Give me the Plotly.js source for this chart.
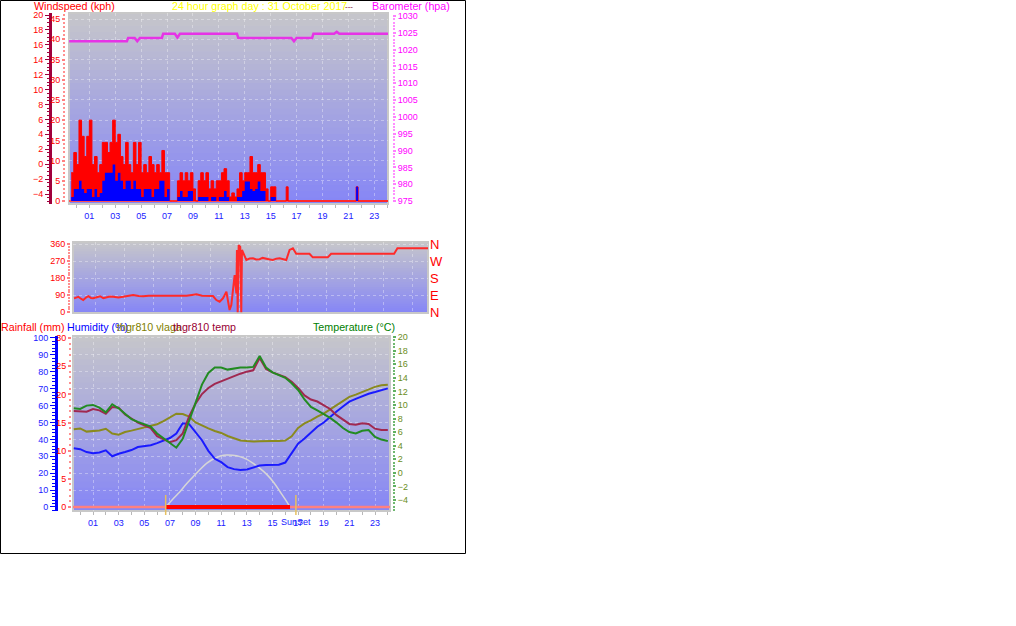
<!DOCTYPE html>
<html>
<head>
<meta charset="utf-8">
<script src="https://cdn.plot.ly/plotly-3.0.1.min.js"></script>
<style>html,body{margin:0;padding:0;background:#fff;}#chart{width:1016px;height:626px;}</style>
</head>
<body>
<div id="chart"></div>
<script>
// ---------- DATA ----------
const tickHours = [1,3,5,7,9,11,13,15,17,19,21,23];
const tickLabels = ['01','03','05','07','09','11','13','15','17','19','21','23'];

// Wind (kph)
const windHours = [-0.4,-0.2,0,0.2,0.4,0.6,0.8,1,1.2,1.4,1.6,1.8,2,2.2,2.4,2.6,2.8,3,3.2,3.4,3.6,3.8,4,4.2,4.4,4.6,4.8,5,5.2,5.4,5.6,5.8,6,6.2,6.4,6.6,6.8,7,7.2,7.4,7.6,7.8,8,8.2,8.4,8.6,8.8,9,9.2,9.4,9.6,9.8,10,10.2,10.4,10.6,10.8,11,11.2,11.4,11.6,11.8,12,12.2,12.4,12.6,12.8,13,13.2,13.4,13.6,13.8,14,14.2,14.4,14.6,14.8,15,15.2,15.4,16.2,16.35,21.6,21.75,24.07];
const windGust = [7,12,9,20,16,11,16,20,9,11,7,9,14.5,14.5,12,14.5,20,14.5,16.5,11,9,14.5,9,7,14.5,9,14.5,7,9,7,11,9,7,9,7,12.5,7,7,0,0,0,5,7,5,7,5,7,3,0,5,7,5,7,3,5,3,5,5,7,8,5,1,2,1,3,7,5,7,7,11,7,7,9,7,7,3,0,3.5,3.5,0,3.5,0,3.5,0,0];
const windAvg  = [1,3,3,5,3,2,3,3,1,3,1,2,5,7,7,7,9,5,7,5,3,5,5,3,5,3,3,1,3,3,3,1,3,3,5,5,1,3,0,0,0,1,2.5,1,1,2.5,2.5,0,0,1,1,1,1,0,1,1,0,1,1,2.5,1,0,0,0,1,1,2.5,4.8,4.8,3,2.5,3,4.8,2.5,2.5,0,0,1,1,0,0,0,3.5,0,0];

// Barometer (hpa)
const baroHours = [-0.56,3.9,4.0,4.5,4.7,4.9,6.6,6.7,7.6,7.8,8.0,12.4,12.5,16.6,16.8,17.0,18.2,18.3,19.9,20.1,20.3,24.07];
const baroHpa   = [1022.5,1022.5,1023.5,1023.5,1022.5,1023.5,1023.5,1024.7,1024.7,1023.6,1024.7,1024.7,1023.5,1023.5,1022.5,1023.5,1023.5,1024.7,1024.7,1025.3,1024.7,1024.7];

// Wind direction (degrees)
const dirHours = [-0.48,-0.3,-0.18,0,0.16,0.35,0.51,0.7,0.85,1.1,1.32,1.55,1.78,2.0,2.24,2.6,2.93,3.3,3.62,4.0,4.32,4.7,5.01,5.5,5.93,6.3,6.63,7.0,7.32,7.7,8.01,8.4,8.7,9.16,9.39,9.62,9.85,10.09,10.2,10.31,10.43,10.55,10.66,10.78,10.82,10.87,10.94,11.05,11.12,11.17,11.28,11.47,11.7,11.93,12.15,12.39,12.6,12.85,13.1,13.31,13.55,13.78,14.0,14.24,14.47,14.7,14.93,15.85,16.08,17.12,17.35,21.72,21.95,24.1];
const dirDeg   = [74,80,82,72,65,78,85,76,74,80,85,75,78,84,82,78,82,88,92,86,85,88,88,90,88,88,88,88,88,92,95,88,88,86,65,56,74,109,60,12,39,120,197,100,330,0,356,346,0,330,312,277,285,286,280,281,288,286,280,277,284,286,280,277,330,339,310,310,291,291,310,310,339,339];
const compassTicks = [0,90,180,270,360];
const compassLabels = ['N','E','S','W','N'];

// Lower panel
const hours = [-0.5,0,0.5,1,1.5,2,2.5,3,3.5,4,4.5,5,5.5,6,6.5,7,7.5,8,8.5,9,9.5,10,10.5,11,11.5,12,12.5,13,13.5,14,14.5,15,15.5,16,16.5,17,17.5,18,18.5,19,19.5,20,20.5,21,21.5,22,22.5,23,23.5,24];
const humidity    = [34.7,34.2,32.5,31.8,32.3,33.5,30,31.5,32.5,33.7,35.5,36,36.5,37.8,39.2,40.8,43.5,49.5,49,44,39.5,33.2,28.5,26.5,23.6,22.4,21.9,22.2,23.5,24.5,24.8,24.8,25,26.3,32,37.5,40.5,44,47.5,50,53.5,56.5,59.5,62.3,64,65.5,67,68,69.2,70.2];
const vlaga       = [46,46.5,44.6,45,45.3,46.3,43.5,42.8,44.4,45.2,46.2,47,48,49,50.8,52.9,55.2,55,53.5,50,48,46.5,45,43.8,42,40.5,39.4,39,38.7,38.9,39.2,39.1,39,39.3,41.8,46.8,49.5,51.2,53.5,55.3,57.8,60.2,63,65.2,66.5,68,69.5,71.1,72,72.3];
const thgrTemp    = [9.1,9.0,9.0,9.4,9.2,8.7,9.7,9.6,8.6,8.0,7.4,7.0,6.6,5.4,4.9,4.5,4.8,5.8,8.3,10.2,11.6,12.5,13.1,13.5,13.9,14.3,14.6,14.9,15.1,16.9,15.3,14.8,14.5,14.1,13.4,12.5,11.4,10.8,10.5,10.0,9.4,8.5,7.8,7.2,7.1,7.3,7.2,6.5,6.3,6.3];
const temperature = [9.5,9.4,9.9,10.0,9.6,8.9,10.1,9.5,8.7,7.9,7.5,7.2,6.8,5.8,5.1,4.5,3.7,5.0,7.5,10.3,13.0,14.7,15.5,15.5,15.2,15.4,15.5,15.5,15.6,17.2,15.5,14.8,14.4,14.0,13.2,12.2,10.8,9.7,9.2,8.7,8.1,7.4,6.6,6.0,5.8,6.2,6.3,5.3,4.9,4.7];
const sunHours = [6.67,7.2,7.78,8.3,8.83,9.35,9.86,10.25,10.64,11.0,11.43,11.9,12.46,13.0,13.5,14.0,14.55,15.1,15.6,16.0,16.37];
const sunElev  = [0,4.5,9,13.7,18,22.2,25.8,27.8,29.3,30.3,30.8,30.6,29.8,28.2,25.8,23,19.3,14.5,9,4.5,0];
const rainHours = [-0.56,24.17];
const rainMm = [0,0];
const daylightHours = [6.67,16.37];
const daylightMm = [0,0];
const sunEvents = [6.67,16.83];

// ---------- LAYOUT HELPERS ----------
const W = 1016, H = 626;
const fx = p => p / W;
const fy = p => 1 - p / H;
const FONT = 'Liberation Sans, Arial, sans-serif';
const GRID = 'rgba(255,255,255,0.35)';

function bands(xr, yr) {
  const out = [];
  const n = 30;
  const top = [198,198,202], bot = [134,134,246];
  for (let i = 0; i < n; i++) {
    const t = (i + 0.5) / n;
    const c = top.map((v, k) => Math.round(v + (bot[k] - v) * t));
    out.push({type:'rect', xref:xr + ' domain', yref:yr + ' domain', x0:0, x1:1,
      y0:Math.max(0, 1 - (i + 1.6) / n), y1:1 - i / n, layer:'below', line:{width:0},
      fillcolor:'rgb(' + c.join(',') + ')'});
  }
  out.push({type:'rect', xref:xr + ' domain', yref:yr + ' domain', x0:0, x1:1, y0:0, y1:1,
    layer:'below', line:{color:'#c8c8c8', width:2}, fillcolor:'rgba(0,0,0,0)'});
  return out;
}

const shapes = [].concat(
  bands('x','y'), bands('x2','y4'), bands('x3','y6'),
  sunEvents.map(h => ({type:'line', xref:'x3', yref:'paper', x0:h, x1:h, y0:fy(515), y1:fy(495),
    line:{color:'#e6c060', width:1.5}})),
  [{type:'rect', xref:'paper', yref:'paper', x0:fx(0.5), x1:fx(465.5), y0:fy(553.5), y1:fy(0.5),
    line:{color:'#000', width:1}, fillcolor:'rgba(0,0,0,0)'}]
);

function ann(text, x, y, color, size) {
  return {text:text, xref:'paper', yref:'paper', x:fx(x), y:fy(y), xanchor:'left', yanchor:'middle',
    showarrow:false, font:{family:FONT, size:size || 10.7, color:color}, borderpad:0};
}
const annotations = [
  ann('Windspeed (kph)', 33, 6, '#ff0000'),
  ann('24 hour graph day : 31 October 2017', 171, 6, '#ffff00'),
  ann('---', 344, 6, '#800020', 8),
  ann('Barometer (hpa)', 371, 6, '#ff00ff'),
  ann('Rainfall (mm)', 0, 327, '#ff0000'),
  ann('Humidity (%)', 66, 327, '#0000ff'),
  ann('thgr810 vlaga', 116, 327, '#808000'),
  ann('thgr810 temp', 172, 327, '#990033'),
  ann('Temperature (°C)', 312, 327, '#008000'),
  {text:'SunSet', xref:'x3', yref:'paper', x:sunEvents[1], y:fy(522), xanchor:'center', yanchor:'middle',
   showarrow:false, font:{family:FONT, size:9, color:'#2020ff'}}
];

const tickFont = c => ({family:FONT, size:9, color:c});

const layout = {
  width:W, height:H, margin:{l:0, r:0, t:0, b:0},
  paper_bgcolor:'#ffffff', plot_bgcolor:'rgba(0,0,0,0)', showlegend:false,
  font:{family:FONT, size:9},
  xaxis:{domain:[fx(69), fx(388)], range:[-0.57, 24.06], anchor:'y',
    tickmode:'array', tickvals:tickHours, ticktext:tickLabels, tickfont:tickFont('#2020ff'),
    ticks:'outside', ticklen:3, tickcolor:'#b8b8b8',
    minor:{tickmode:'linear', tick0:0, dtick:1, ticks:'outside', ticklen:3, tickcolor:'#b8b8b8', showgrid:false},
    showgrid:true, gridcolor:GRID, griddash:'dot', zeroline:false, showline:false, fixedrange:true},
  yaxis:{domain:[fy(204), fy(13)], range:[-0.74, 46.5], anchor:'free', position:fx(65), side:'left',
    tickmode:'linear', tick0:0, dtick:5, tickfont:tickFont('#ff0000'),
    ticks:'outside', ticklen:3, tickwidth:2, tickcolor:'#ff8080',
    minor:{tickmode:'linear', tick0:0, dtick:1, ticks:'outside', ticklen:2, tickwidth:2, tickcolor:'#ff9090', showgrid:false},
    showline:false, showgrid:true, gridcolor:GRID, griddash:'dot',
    zeroline:true, zerolinecolor:'#ff5050', zerolinewidth:2},
  yaxis2:{overlaying:'y', anchor:'free', position:fx(50), side:'left', range:[-5.34, 20.27],
    tickmode:'linear', tick0:-4, dtick:2, tickfont:tickFont('#ff0000'),
    showline:true, linecolor:'#a0003c', linewidth:3,
    ticks:'outside', ticklen:4, tickcolor:'#a0003c',
    minor:{tickmode:'linear', tick0:-4, dtick:0.5, ticks:'outside', ticklen:2, tickcolor:'#a0003c', showgrid:false},
    showgrid:false, zeroline:false},
  yaxis3:{overlaying:'y', anchor:'free', position:fx(392), side:'right', range:[974.1, 1030.9],
    tickmode:'linear', tick0:975, dtick:5, tickfont:tickFont('#ff00ff'),
    ticks:'outside', ticklen:3, tickwidth:2, tickcolor:'#ff80ff',
    minor:{tickmode:'linear', tick0:975, dtick:1, ticks:'outside', ticklen:2, tickwidth:2, tickcolor:'#ff90ff', showgrid:false},
    showline:false, showgrid:false, zeroline:false},
  xaxis2:{domain:[fx(73), fx(428)], range:[-0.55, 24.07], anchor:'y4',
    tickmode:'array', tickvals:tickHours, showticklabels:false, ticks:'',
    showgrid:true, gridcolor:GRID, griddash:'dot', zeroline:false, showline:false},
  yaxis4:{domain:[fy(313), fy(242)], range:[-3.7, 372.2], anchor:'free', position:fx(70), side:'left',
    tickmode:'linear', tick0:0, dtick:90, tickfont:tickFont('#ff0000'),
    ticks:'outside', ticklen:3, tickwidth:2, tickcolor:'#ff8080',
    minor:{tickmode:'linear', tick0:0, dtick:15, ticks:'outside', ticklen:2, tickwidth:2, tickcolor:'#ff9090', showgrid:false},
    showgrid:true, gridcolor:GRID, griddash:'dot', zeroline:false, showline:false},
  yaxis5:{overlaying:'y4', anchor:'free', position:fx(429), side:'right', range:[-3.7, 372.2],
    tickmode:'array', tickvals:compassTicks, ticktext:compassLabels,
    tickfont:{family:FONT, size:13, color:'#ff0000'}, ticks:'', showgrid:false, zeroline:false, showline:false},
  xaxis3:{domain:[fx(73), fx(390)], range:[-0.56, 24.17], anchor:'y6',
    tickmode:'array', tickvals:tickHours, ticktext:tickLabels, tickfont:tickFont('#2020ff'),
    ticks:'outside', ticklen:3, tickcolor:'#b8b8b8',
    minor:{tickmode:'linear', tick0:0, dtick:1, ticks:'outside', ticklen:3, tickcolor:'#b8b8b8', showgrid:false},
    showgrid:true, gridcolor:GRID, griddash:'dot', zeroline:false, showline:false},
  yaxis6:{domain:[fy(511), fy(336)], range:[-2.37, 101.18], anchor:'free', position:fx(56), side:'left',
    tickmode:'linear', tick0:0, dtick:10, tickfont:tickFont('#2020ff'),
    showline:true, linecolor:'#0000ff', linewidth:3,
    ticks:'outside', ticklen:5, tickcolor:'#0000ff',
    minor:{tickmode:'linear', tick0:0, dtick:2, ticks:'outside', ticklen:3, tickcolor:'#0000ff', showgrid:false},
    showgrid:true, gridcolor:GRID, griddash:'dot', zeroline:false},
  yaxis7:{overlaying:'y6', anchor:'free', position:fx(71), side:'left', range:[-0.71, 30.36],
    tickmode:'linear', tick0:0, dtick:5, tickfont:tickFont('#ff0000'),
    ticks:'outside', ticklen:3, tickwidth:2, tickcolor:'#ff8080',
    minor:{tickmode:'linear', tick0:0, dtick:1, ticks:'outside', ticklen:2, tickwidth:2, tickcolor:'#ff9090', showgrid:false},
    showgrid:false, zeroline:false, showline:false},
  yaxis8:{overlaying:'y6', anchor:'free', position:fx(392), side:'right', range:[-5.62, 20.15],
    tickmode:'linear', tick0:-4, dtick:2, tickfont:tickFont('#6b8e23'),
    ticks:'outside', ticklen:3, tickwidth:2, tickcolor:'#60b060',
    minor:{tickmode:'linear', tick0:-4, dtick:0.5, ticks:'outside', ticklen:2, tickwidth:2, tickcolor:'#70b870', showgrid:false},
    showgrid:false, zeroline:false, showline:false},
  shapes:shapes,
  annotations:annotations
};

const traces = [
  {name:'Gust', x:windHours, y:windGust, xaxis:'x', yaxis:'y', mode:'lines',
   line:{shape:'hv', color:'#ff0000', width:1}, fill:'tozeroy', fillcolor:'#ff0000', hoverinfo:'skip'},
  {name:'Average', x:windHours, y:windAvg, xaxis:'x', yaxis:'y', mode:'lines',
   line:{shape:'hv', color:'#0000ff', width:0}, fill:'tozeroy', fillcolor:'#0000ff', hoverinfo:'skip'},
  {name:'Barometer', x:baroHours, y:baroHpa, xaxis:'x', yaxis:'y3', mode:'lines',
   line:{color:'#e633e6', width:2.5}},
  // empty trace so the outer left axis of the top panel is drawn
  {name:'axis-temp', x:[], y:[], xaxis:'x', yaxis:'y2', mode:'lines'},
  {name:'Direction', x:dirHours, y:dirDeg, xaxis:'x2', yaxis:'y4', mode:'lines',
   line:{color:'#ff2a2a', width:2}},
  // compass axis (same directions)
  {name:'Direction compass', x:dirHours, y:dirDeg, xaxis:'x2', yaxis:'y5', mode:'lines',
   line:{color:'rgba(0,0,0,0)', width:0}, hoverinfo:'skip'},
  {name:'Rainfall', x:rainHours, y:rainMm, xaxis:'x3', yaxis:'y7', mode:'lines',
   line:{color:'#ff8080', width:2.5}},
  {name:'Daylight', x:daylightHours, y:daylightMm, xaxis:'x3', yaxis:'y7', mode:'lines',
   line:{color:'#ff0000', width:4}},
  {name:'Sun', x:sunHours, y:sunElev, xaxis:'x3', yaxis:'y6', mode:'lines',
   line:{color:'#d6d6d6', width:1.5, shape:'spline'}},
  {name:'thgr810 vlaga', x:hours, y:vlaga, xaxis:'x3', yaxis:'y6', mode:'lines',
   line:{color:'#8a8a1e', width:2}},
  {name:'Humidity', x:hours, y:humidity, xaxis:'x3', yaxis:'y6', mode:'lines',
   line:{color:'#1a1aff', width:2}},
  {name:'thgr810 temp', x:hours, y:thgrTemp, xaxis:'x3', yaxis:'y8', mode:'lines',
   line:{color:'#a02850', width:2}},
  {name:'Temperature', x:hours, y:temperature, xaxis:'x3', yaxis:'y8', mode:'lines',
   line:{color:'#228b22', width:2}}
];

Plotly.newPlot('chart', traces, layout, {staticPlot:true, displayModeBar:false});
</script>
</body>
</html>
